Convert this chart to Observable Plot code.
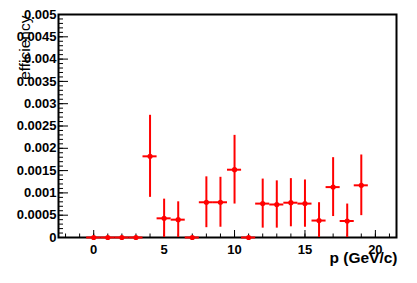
<!DOCTYPE html>
<html>
<head>
<meta charset="utf-8">
<script src="https://cdn.jsdelivr.net/npm/d3@7"></script>
<script src="https://cdn.jsdelivr.net/npm/@observablehq/plot@0.6"></script>
<style>
  html, body { margin: 0; padding: 0; background: #fff; }
  #chart svg { display: block; }
</style>
</head>
<body>
<div id="chart"></div>
<script>
// Bin centres (GeV/c)
const pBins = [0, 1, 2, 3, 4, 5, 6, 7, 8, 9, 10, 11, 12, 13, 14, 15, 16, 17, 18, 19];
// Efficiency per bin
const effValues = [0, 0, 0, 0, 0.00182, 0.00043, 0.00040, 0, 0.00079, 0.00079,
                   0.00152, 0, 0.00076, 0.00074, 0.00078, 0.00076, 0.00038, 0.00113, 0.00037, 0.00117];
// Error per bin
const effErrors = [0, 0, 0, 0, 0.00092, 0.00043, 0.00040, 0, 0.00057, 0.00056,
                   0.00077, 0, 0.00055, 0.00053, 0.00054, 0.00053, 0.00040, 0.00066, 0.00038, 0.00068];
const binHalfWidth = 0.5;

// Axis ticks
const xMajorTicks = [0, 5, 10, 15, 20];
const xMinorTicks = [-2, -1, 0, 1, 2, 3, 4, 5, 6, 7, 8, 9, 10, 11, 12, 13, 14, 15, 16, 17, 18, 19, 20, 21];
const yMajorTicks = [0, 0.0005, 0.001, 0.0015, 0.002, 0.0025, 0.003, 0.0035, 0.004, 0.0045, 0.005];
const yMinorTicks = d3.range(0, 51).map(i => +(i * 0.0001).toFixed(4));

const xDomain = [-2.5, 21.5];
const yDomain = [0, 0.005];

const W = 417, H = 283;
const margin = {left: 58, right: 21, top: 14, bottom: 46};
const plotW = W - margin.left - margin.right;
const plotH = H - margin.top - margin.bottom;
// tick lengths in pixels converted to data units through the scale extents
const pxToY = px => px / plotH * (yDomain[1] - yDomain[0]);
const pxToX = px => px / plotW * (xDomain[1] - xDomain[0]);

const data = pBins.map((p, i) => ({p, v: effValues[i], e: effErrors[i]}));
const withErr = data.filter(d => d.e > 0);

const fontBold = {fontFamily: "'Liberation Sans', Helvetica, Arial, sans-serif", fontWeight: "bold"};

const chart = Plot.plot({
  width: W, height: H,
  marginLeft: margin.left, marginRight: margin.right,
  marginTop: margin.top, marginBottom: margin.bottom,
  style: {background: "#fff", fontFamily: "'Liberation Sans', Helvetica, Arial, sans-serif", fontSize: "13px", fontWeight: "bold", color: "#000"},
  x: {domain: xDomain},
  y: {domain: yDomain},
  marks: [
    Plot.axisX({ticks: xMajorTicks, tickSize: 0, tickPadding: 7, label: null, fontSize: 13, fontWeight: "bold"}),
    Plot.axisY({ticks: yMajorTicks, tickSize: 0, tickPadding: 2, label: null, fontSize: 13, fontWeight: "bold",
                tickFormat: d => String(+d.toFixed(4))}),
    // inner ticks
    Plot.ruleX(xMinorTicks, {x: d => d, y1: 0, y2: pxToY(3.5), stroke: "#000", strokeWidth: 1}),
    Plot.ruleX(xMajorTicks, {x: d => d, y1: 0, y2: pxToY(7), stroke: "#000", strokeWidth: 1}),
    Plot.ruleY(yMinorTicks, {y: d => d, x1: xDomain[0], x2: xDomain[0] + pxToX(5), stroke: "#000", strokeWidth: 1}),
    Plot.ruleY(yMajorTicks, {y: d => d, x1: xDomain[0], x2: xDomain[0] + pxToX(10), stroke: "#000", strokeWidth: 1}),
    Plot.frame({stroke: "#000", strokeWidth: 2}),
    // data: horizontal bin-width bars
    Plot.ruleY(data, {y: "v", x1: d => d.p - binHalfWidth, x2: d => d.p + binHalfWidth, stroke: "#ff0000", strokeWidth: 2}),
    // vertical error bars
    Plot.ruleX(withErr, {x: "p", y1: d => Math.max(0, d.v - d.e), y2: d => d.v + d.e, stroke: "#ff0000", strokeWidth: 2}),
    Plot.dot(data, {x: "p", y: "v", r: 2.6, fill: "#ff0000", stroke: "none"}),
    // axis titles
    Plot.text(["efficiency"], {frameAnchor: "top-left", rotate: -90, textAnchor: "end", dx: -40, dy: 1,
      fontSize: 15.5, fontWeight: "normal", fontFamily: "'Liberation Sans', Helvetica, Arial, sans-serif", fill: "#000"}),
    Plot.text(["p (GeV/c)"], {frameAnchor: "bottom-right", textAnchor: "end", lineAnchor: "middle", dx: 1, dy: 21,
      fontSize: 15.5, fontWeight: "bold", fontFamily: "'Liberation Sans', Helvetica, Arial, sans-serif", fill: "#000"})
  ]
});
document.getElementById("chart").append(chart);
</script>
</body>
</html>
